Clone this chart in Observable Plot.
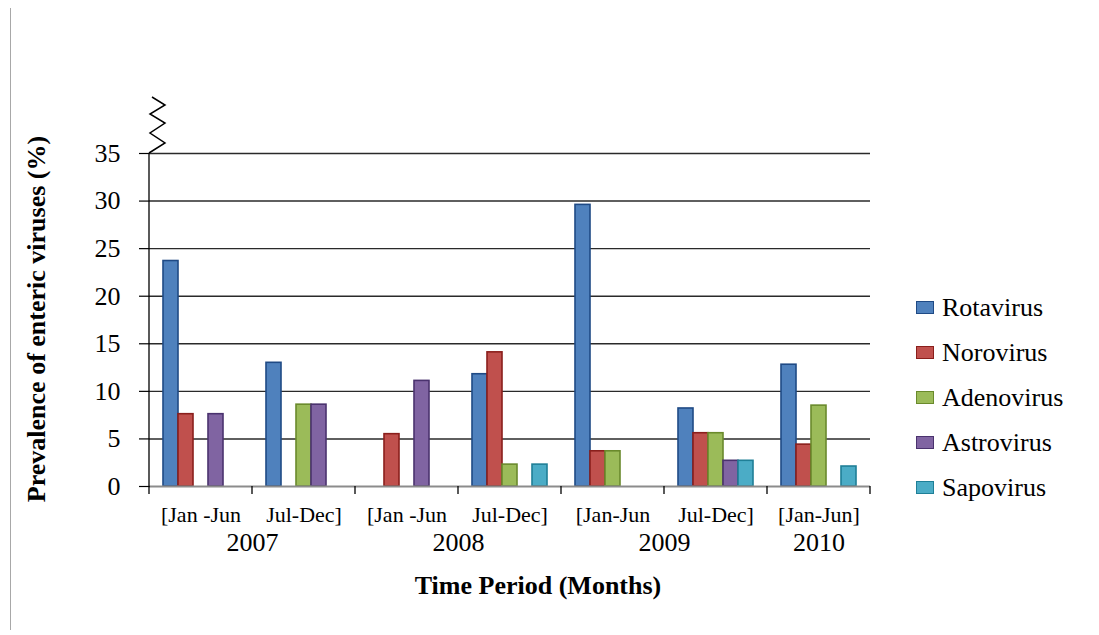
<!DOCTYPE html>
<html>
<head>
<meta charset="utf-8">
<script src="https://cdn.jsdelivr.net/npm/d3@7"></script>
<script src="https://cdn.jsdelivr.net/npm/@observablehq/plot@0.6"></script>
<style>
  body { margin: 0; background: #fff; }
  #wrap { position: relative; width: 1099px; height: 635px; overflow: hidden; background: #fff;
          font-family: "Liberation Serif", "Times New Roman", serif; color: #000; }
  #wrap svg { position: absolute; left: 0; top: 0; }
  .abs { position: absolute; white-space: nowrap; }
  .xtitle { font-weight: bold; font-size: 26px; line-height: 26px; text-align: center; }
  .ytitle { font-weight: bold; font-size: 26px; line-height: 30px; text-align: center; transform: rotate(-90deg); }
  .legtext { font-size: 26px; line-height: 26px; }
  .sw { width: 16px; height: 11px; }
  .border { background: #a8a8a8; width: 1px; }
</style>
</head>
<body>
<div id="wrap"></div>
<script>
// ---- data ----
const periods = ["2007-H1", "2007-H2", "2008-H1", "2008-H2", "2009-H1", "2009-H2", "2010-H1"];
const periodLabels = ["[Jan -Jun", "Jul-Dec]", "[Jan -Jun", "Jul-Dec]", "[Jan-Jun", "Jul-Dec]", "[Jan-Jun]"];
const periodYears = ["2007", "2007", "2008", "2008", "2009", "2009", "2010"];
const series = ["Rotavirus", "Norovirus", "Adenovirus", "Astrovirus", "Sapovirus"];
const rotavirus  = [23.7, 13.0, 0, 11.8, 29.6, 8.2, 12.8];
const norovirus  = [7.6, 0, 5.5, 14.1, 3.7, 5.6, 4.4];
const adenovirus = [0, 8.6, 0, 2.3, 3.7, 5.6, 8.5];
const astrovirus = [7.6, 8.6, 11.1, 0, 0, 2.7, 0];
const sapovirus  = [0, 0, 0, 2.3, 0, 2.7, 2.1];
const yTicks = [0, 5, 10, 15, 20, 25, 30, 35];
const fills   = ["#4F81BD", "#C0504D", "#9BBB59", "#8064A2", "#4BACC6"];
const strokes = ["#1F4A85", "#8A1F1C", "#6A8A2C", "#4A326E", "#1F7F97"];

const values = [rotavirus, norovirus, adenovirus, astrovirus, sapovirus];
const seriesData = values.map(arr => periods.map((p, i) => ({period: p, value: arr[i]})).filter(d => d.value > 0));

// years: those spanning two halves are centred on the boundary, single ones on the half
const years = Array.from(new Set(periodYears));
const yearInfo = years.map(y => ({year: y, first: periods[periodYears.indexOf(y)], count: periodYears.filter(v => v === y).length}));

const font = "Liberation Serif, Times New Roman, serif";

const chart = Plot.plot({
  width: 1099,
  height: 635,
  marginLeft: 147,
  marginRight: 227,
  marginTop: 153,
  marginBottom: 149,
  style: {fontFamily: font, background: "transparent", color: "#000"},
  fx: {domain: periods, paddingInner: 0, paddingOuter: 0, axis: null},
  x: {domain: series, paddingInner: 0, paddingOuter: 0.75, axis: null},
  y: {domain: [0, 35]},
  marks: [
    Plot.ruleY(yTicks.filter(t => t > 0), {stroke: "#2a2a2a", strokeWidth: 1.4}),
    ...series.map((s, k) => Plot.barY(seriesData[k], {
      fx: "period", x: () => s, y: "value",
      fill: fills[k], stroke: strokes[k], strokeWidth: 1.6
    })),
    Plot.ruleY([0], {stroke: "#8c8c8c", strokeWidth: 2}),
    Plot.axisY({ticks: yTicks, tickSize: 10, tickPadding: 19, fontSize: 26, label: null, stroke: "#000", strokeWidth: 1.2}),
    Plot.text(periods, {fx: d => d, text: (d, i) => periodLabels[i], frameAnchor: "bottom", dy: 35, fontSize: 22}),
    Plot.text(yearInfo.filter(d => d.count > 1), {fx: "first", text: "year", frameAnchor: "bottom-right", textAnchor: "middle", dy: 64, fontSize: 26}),
    Plot.text(yearInfo.filter(d => d.count === 1), {fx: "first", text: "year", frameAnchor: "bottom", textAnchor: "middle", dy: 64, fontSize: 26})
  ]
});

const wrap = document.getElementById("wrap");
wrap.appendChild(chart);

// axis line, group ticks and axis break drawn from the plot's scales
const fxS = chart.scale("fx"), yS = chart.scale("y");
const y0 = yS.apply(0), yTop = yS.apply(35);
const starts = periods.map(p => fxS.apply(p));
const bounds = [...starts, starts[starts.length - 1] + fxS.bandwidth];
const xL = bounds[0];
const g = d3.select(chart).append("g").attr("stroke", "#000").attr("fill", "none");
g.append("line").attr("x1", xL).attr("x2", xL).attr("y1", y0 + 1).attr("y2", yTop).attr("stroke-width", 1.3);
bounds.forEach(b => g.append("line").attr("x1", b).attr("x2", b).attr("y1", y0).attr("y2", y0 + 8).attr("stroke-width", 1.3));
const zz = [[0, 0], [16, -10], [1, -20], [16, -30], [1, -39], [16, -48], [3, -56]];
g.append("path").attr("d", d3.line()(zz.map(([dx, dy]) => [xL + dx, yTop + dy]))).attr("stroke-width", 1.5);

// left figure border
const border = document.createElement("div");
border.className = "abs border";
border.style.left = "10px"; border.style.top = "8px"; border.style.height = "622px";
wrap.appendChild(border);

// axis titles
const xt = document.createElement("div");
xt.className = "abs xtitle";
xt.textContent = "Time Period (Months)";
xt.style.left = "338px"; xt.style.width = "400px"; xt.style.top = "573px";
wrap.appendChild(xt);

const yt = document.createElement("div");
yt.className = "abs ytitle";
yt.textContent = "Prevalence of enteric viruses (%)";
yt.style.left = (37 - 250) + "px"; yt.style.width = "500px"; yt.style.top = (319 - 15) + "px"; yt.style.height = "30px";
wrap.appendChild(yt);

// legend
series.forEach((s, i) => {
  const sw = document.createElement("div");
  sw.className = "abs sw";
  sw.style.left = "916px"; sw.style.top = (301 + i * 45) + "px";
  sw.style.background = `linear-gradient(${fills[i]}, ${fills[i]})`;
  sw.style.border = `1px solid ${strokes[i]}`;
  wrap.appendChild(sw);
  const t = document.createElement("div");
  t.className = "abs legtext";
  t.textContent = s;
  t.style.left = "942px"; t.style.top = (295 + i * 45) + "px";
  wrap.appendChild(t);
});
</script>
</body>
</html>
